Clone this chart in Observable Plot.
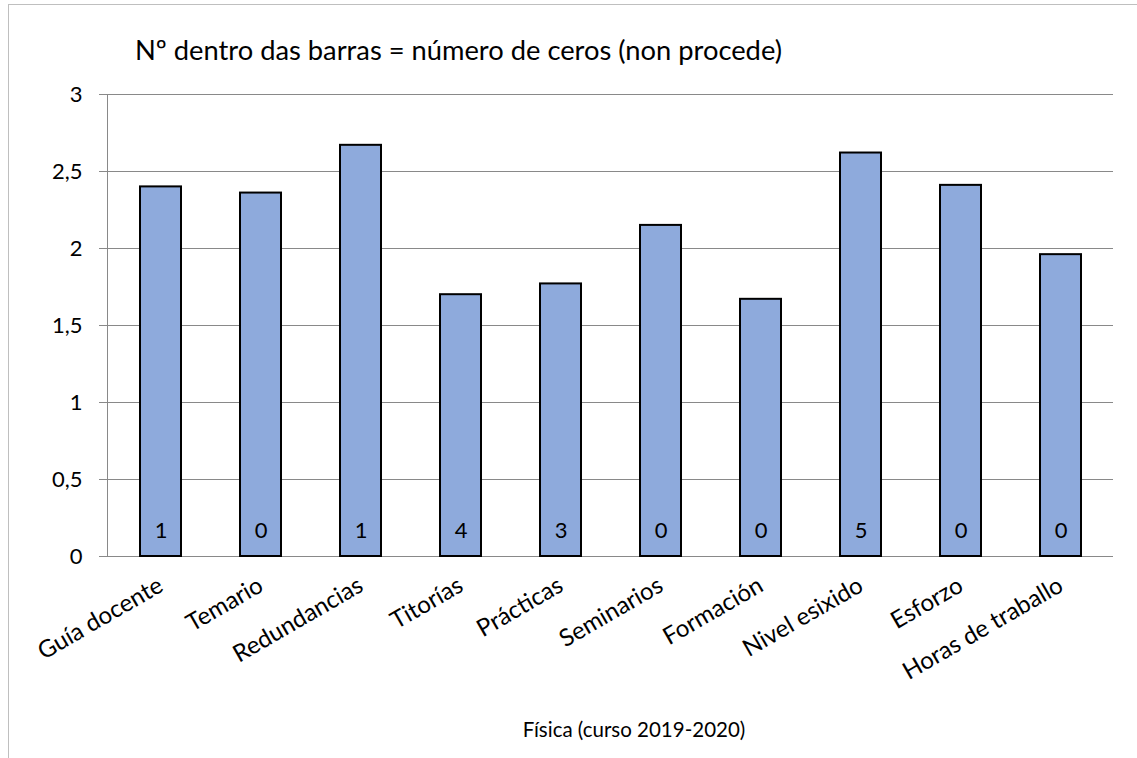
<!DOCTYPE html>
<html>
<head>
<meta charset="utf-8">
<script src="https://cdn.jsdelivr.net/npm/d3@7"></script>
<script src="https://cdn.jsdelivr.net/npm/@observablehq/plot@0.6"></script>
<style>
  html, body { margin: 0; padding: 0; background: #fff; }
  #wrap { position: relative; width: 1137px; height: 758px; overflow: hidden; font-family: Lato, "Open Sans", sans-serif; }
  #frame { position: absolute; left: 8px; top: 4px; width: 1200px; height: 800px; border: 1px solid #bfbfbf; box-sizing: border-box; }
  #title { position: absolute; left: 135px; top: 33px; font-size: 27.3px; color: #000; white-space: nowrap; }
  #caption { position: absolute; left: 0; width: 1268px; top: 717px; text-align: center; font-size: 20.5px; color: #000; white-space: nowrap; }
  #chart { position: absolute; left: 0; top: 0; }
</style>
</head>
<body>
<div id="wrap">
  <div id="frame"></div>
  <div id="chart"></div>
  <div id="title">Nº dentro das barras = número de ceros (non procede)</div>
  <div id="caption">Física (curso 2019-2020)</div>
</div>
<script>
const categories = ["Guía docente", "Temario", "Redundancias", "Titorías", "Prácticas", "Seminarios", "Formación", "Nivel esixido", "Esforzo", "Horas de traballo"];
const values = [2.40, 2.36, 2.67, 1.70, 1.77, 2.15, 1.67, 2.62, 2.41, 1.96];
const zeros = [1, 0, 1, 4, 3, 0, 0, 5, 0, 0];
const yTicks = [0, 0.5, 1, 1.5, 2, 2.5, 3];

const data = categories.map((c, i) => ({ cat: c, value: values[i], zeros: zeros[i] }));
const fmt = d => String(d).replace(".", ",");

const chart = Plot.plot({
  width: 1137,
  height: 758,
  marginLeft: 107,
  marginRight: 24,
  marginTop: 94,
  marginBottom: 202,
  style: { fontFamily: 'Lato, "Open Sans", sans-serif', background: "transparent", overflow: "visible" },
  x: { domain: categories, paddingInner: 0.59, paddingOuter: 0.295, label: null },
  y: { domain: [0, 3], label: null },
  marks: [
    Plot.gridY(yTicks, { stroke: "#898989", strokeOpacity: 1 }),
    Plot.frame({ anchor: "left", stroke: "#898989" }),
    Plot.axisY({ ticks: yTicks, tickFormat: fmt, tickSize: 8, tickPadding: 17, fontSize: 22, color: "#000", stroke: "#898989", strokeOpacity: 1, label: null }),
    Plot.barY(data, { x: "cat", y: "value", fill: "#8eaadc", stroke: "#000", strokeWidth: 2 }),
    Plot.text(data, { x: "cat", y: 0, text: d => String(d.zeros), dy: -26, fontSize: 22, fill: "#000", lineAnchor: "middle" }),
    Plot.axisX({ tickSize: 0, tickPadding: 27, tickRotate: -30, fontSize: 24, color: "#000", label: null })
  ]
});
document.getElementById("chart").appendChild(chart);
</script>
</body>
</html>
